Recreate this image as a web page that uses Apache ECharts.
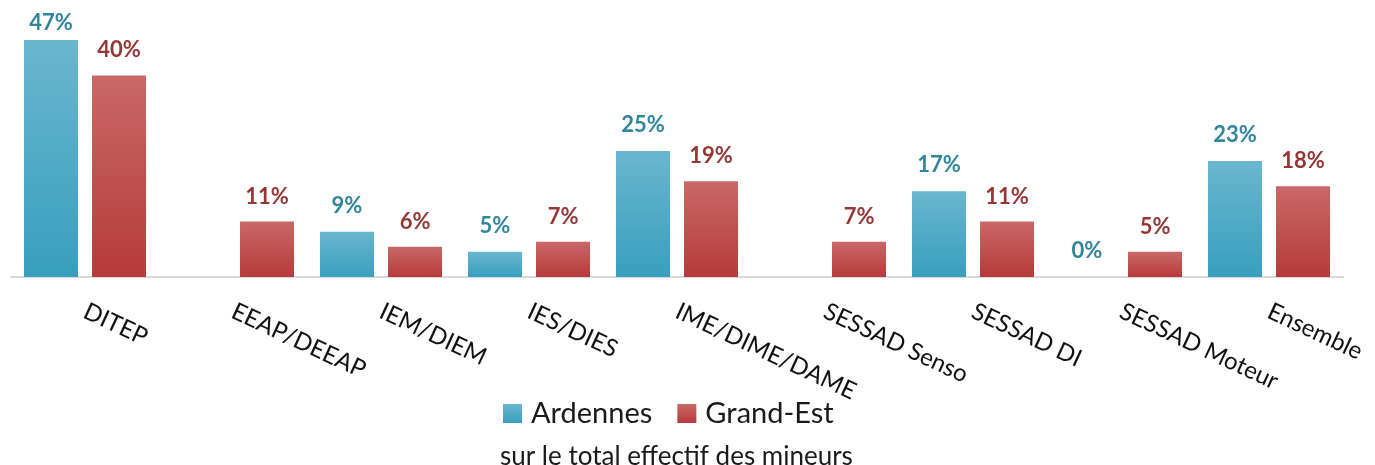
<!DOCTYPE html>
<html>
<head>
<meta charset="utf-8">
<script src="https://cdn.jsdelivr.net/npm/echarts@6/dist/echarts.min.js"></script>
<style>
  html, body { margin: 0; padding: 0; background: #fff; }
  #chart { width: 1375px; height: 465px; }
</style>
</head>
<body>
<div id="chart"></div>
<script>
// catégories d'établissements
const categories = ['DITEP', 'EEAP/DEEAP', 'IEM/DIEM', 'IES/DIES', 'IME/DIME/DAME',
  'SESSAD Senso', 'SESSAD DI', 'SESSAD Moteur', 'Ensemble'];
// part en % (null = pas de valeur)
const ardennes = [47, null, 9, 5, 25, null, 17, 0, 23];
const grandEst = [40, 11, 6, 7, 19, 7, 11, 5, 18];

const font = 'Lato, "Noto Sans", sans-serif';

function grad(top, bottom) {
  return {
    type: 'linear', x: 0, y: 0, x2: 0, y2: 1,
    colorStops: [{ offset: 0, color: top }, { offset: 1, color: bottom }]
  };
}

// la plus haute étiquette est tassée contre le bord haut
function withLabels(values) {
  return values.map(v => v >= 45 ? { value: v, label: { distance: 6 } } : v);
}

const chart = echarts.init(document.getElementById('chart'));
const option = {
  animation: false,
  textStyle: { fontFamily: font },
  grid: { left: 11, right: 32, top: 25, bottom: 188, containLabel: false },
  title: {
    text: 'sur le total effectif des mineurs',
    left: 500, top: 444, padding: 0,
    textStyle: { fontFamily: font, fontSize: 26, fontWeight: 'normal', color: '#1a1a1a' }
  },
  legend: {
    left: 503, top: 399, padding: 0,
    itemWidth: 19, itemHeight: 19, itemGap: 25,
    icon: 'rect',
    textStyle: { fontFamily: font, fontSize: 29, color: '#1a1a1a', padding: [0, 0, 0, 4] },
    data: ['Ardennes', 'Grand-Est']
  },
  xAxis: {
    type: 'category',
    data: categories,
    axisLine: { lineStyle: { color: '#d9d9d9', width: 2 } },
    axisTick: { show: false },
    axisLabel: { rotate: -25, margin: 33, fontFamily: font, fontSize: 24, color: '#111' }
  },
  yAxis: {
    type: 'value', min: 0, max: 50, show: false,
    splitLine: { show: false }
  },
  series: [
    {
      name: 'Ardennes', type: 'bar', data: withLabels(ardennes),
      barWidth: 54, barGap: '26%',
      itemStyle: { color: grad('#6ab6cf', '#389fbe') },
      label: {
        show: true, position: 'top', distance: 15,
        formatter: '{c}%', fontFamily: font, fontSize: 22, fontWeight: 'bold', color: '#31859c'
      }
    },
    {
      name: 'Grand-Est', type: 'bar', data: withLabels(grandEst),
      barWidth: 54,
      itemStyle: { color: grad('#c96868', '#b73a3a') },
      label: {
        show: true, position: 'top', distance: 14,
        formatter: '{c}%', fontFamily: font, fontSize: 22, fontWeight: 'bold', color: '#953735'
      }
    }
  ]
};
chart.setOption(option);
</script>
</body>
</html>
